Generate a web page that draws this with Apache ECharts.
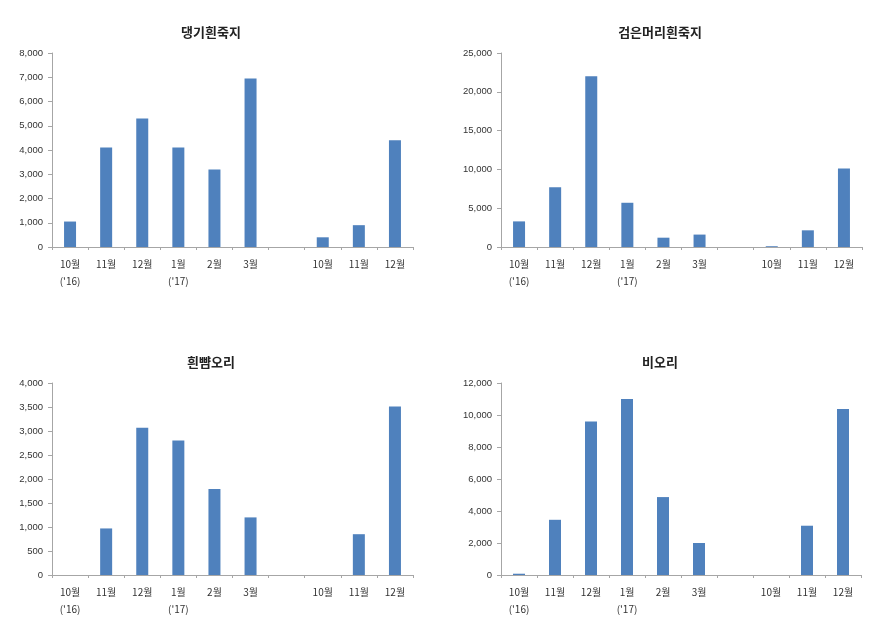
<!DOCTYPE html>
<html>
<head>
<meta charset="utf-8">
<script src="https://cdn.jsdelivr.net/npm/echarts@6/dist/echarts.min.js"></script>
<style>html,body{margin:0;padding:0;background:#fff}#c{width:875px;height:637px}</style>
</head>
<body>
<div id="c"></div>
<script>
const categories = ["10월\n('16)", "11월", "12월", "1월\n('17)", "2월", "3월", "", "10월", "11월", "12월"];
const titles = ["댕기흰죽지", "검은머리흰죽지", "흰뺨오리", "비오리"];
const dangi = [1050, 4100, 5300, 4100, 3200, 6950, null, 400, 900, 4400];
const geomeori = [3300, 7700, 22000, 5700, 1200, 1600, null, 100, 2150, 10100];
const hinppyam = [0, 970, 3070, 2800, 1790, 1200, 0, 0, 850, 3510];
const biori = [80, 3450, 9600, 11000, 4870, 2000, null, 0, 3080, 10380];
const yMax = [8000, 25000, 4000, 12000];
const yStep = [1000, 5000, 500, 2000];
const seriesData = [dangi, geomeori, hinppyam, biori];

const grids = [
  {left: 52, right: 462, top: 53, bottom: 390},
  {left: 501, right: 13, top: 53, bottom: 390},
  {left: 52, right: 462, top: 383, bottom: 62},
  {left: 501, right: 14, top: 383, bottom: 62}
];
const titlePos = [[206, 21], [655, 21], [206, 351], [655, 351]];
const axisColor = '#a6a6a6';
const chart = echarts.init(document.getElementById('c'));
const option = {
  backgroundColor: '#fff',
  animation: false,
  title: titles.map((t, i) => ({
    text: t, left: titlePos[i][0], top: titlePos[i][1], textAlign: 'center',
    textStyle: {fontFamily: 'Noto Sans CJK KR', fontSize: 13, fontWeight: 'bold', color: '#222'}
  })),
  grid: grids,
  xAxis: grids.map((g, i) => ({
    type: 'category', gridIndex: i, data: categories,
    axisLine: {lineStyle: {color: axisColor}},
    axisTick: {show: true, alignWithLabel: false, length: 3, lineStyle: {color: axisColor}},
    axisLabel: {interval: 0, color: '#333', fontSize: 10, lineHeight: 17, margin: 9, fontFamily: 'Noto Sans CJK KR'}
  })),
  yAxis: grids.map((g, i) => ({
    type: 'value', gridIndex: i, min: 0, max: yMax[i], interval: yStep[i],
    splitLine: {show: false},
    axisLine: {show: true, lineStyle: {color: axisColor}},
    axisTick: {show: true, length: 4, lineStyle: {color: axisColor}},
    axisLabel: {color: '#333', fontSize: 9.5, margin: 9, fontFamily: 'Liberation Sans',
      formatter: v => v.toLocaleString('en-US')}
  })),
  series: seriesData.map((d, i) => ({
    type: 'bar', xAxisIndex: i, yAxisIndex: i, data: d, barWidth: 12,
    itemStyle: {color: '#4f81bd'}
  }))
};
chart.setOption(option);
</script>
</body>
</html>
